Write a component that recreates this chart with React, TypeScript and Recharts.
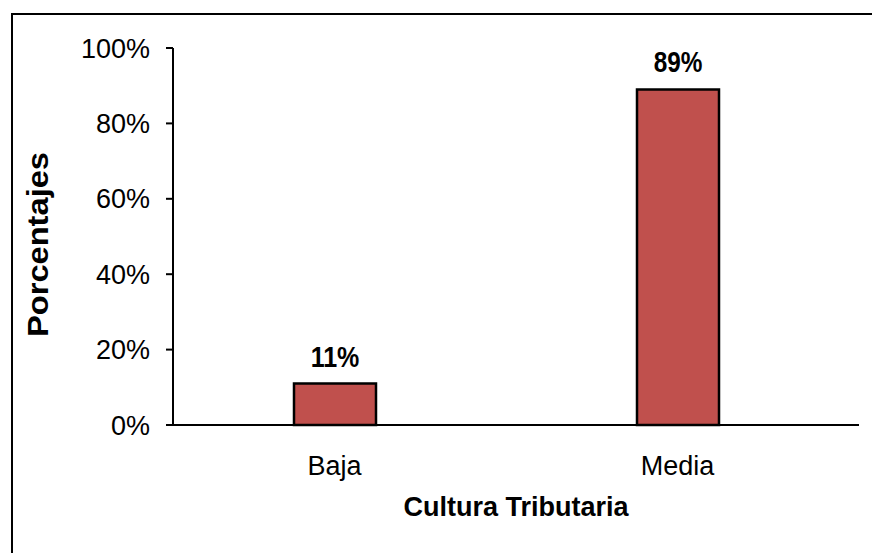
import React from 'react';
import { BarChart, Bar, XAxis, YAxis, LabelList, Label } from 'recharts';

const categories = ['Baja', 'Media'];
const percentages = [0.11, 0.89];
const yTicks = [0, 0.2, 0.4, 0.6, 0.8, 1];

const data = categories.map((name, i) => ({ name, value: percentages[i] }));

const pct = (v: any) => `${Math.round(Number(v) * 100)}%`;

const FONT = 'Liberation Sans, Arial, sans-serif';

// narrow bold value label above each bar
const ValueLabel = (props: any) => {
  const { x, y, width, value } = props;
  const fs = 29;
  return (
    <text
      x={Number(x) + Number(width) / 2}
      y={Number(y) - 17}
      textAnchor="middle"
      fontSize={fs}
      fontWeight="bold"
      fontFamily={FONT}
      fill="#000"
      textLength={fs * 1.68}
      lengthAdjust="spacingAndGlyphs"
    >
      {pct(value)}
    </text>
  );
};

// rotated y axis title, placed inside the axis box
const YTitle = (props: any) => {
  const { viewBox } = props;
  const cx = viewBox.x + 38;
  const cy = viewBox.y + viewBox.height / 2 + 8;
  return (
    <text
      x={cx}
      y={cy}
      transform={`rotate(-90, ${cx}, ${cy})`}
      textAnchor="middle"
      dominantBaseline="central"
      fontSize={29}
      fontWeight="bold"
      fontFamily={FONT}
      fill="#000"
      textLength={185}
      lengthAdjust="spacingAndGlyphs"
    >
      Porcentajes
    </text>
  );
};

export default function App() {
  return (
    <div style={{ position: 'absolute', left: 0, top: 0, width: 872, height: 553, overflow: 'hidden', background: '#fff' }}>
      {/* frame around the chart, cut off at right and bottom */}
      <div style={{ position: 'absolute', left: 11, top: 13, width: 900, height: 600, border: '2px solid #000' }} />
      <div style={{ position: 'absolute', left: 0, top: 0 }}>
        <BarChart width={872} height={553} data={data} margin={{ top: 48, right: 13, bottom: 0, left: 0 }}>
          <XAxis
            dataKey="name"
            height={128}
            padding={{ left: -10, right: 10 }}
            axisLine={{ stroke: '#000', strokeWidth: 2 }}
            tickLine={false}
            tickSize={0}
            tickMargin={31}
            tick={{ fill: '#000', fontSize: 27, fontFamily: FONT }}
          >
            <Label
              value="Cultura Tributaria"
              position="insideBottom"
              offset={37}
              style={{ fill: '#000', fontSize: 27, fontWeight: 'bold', fontFamily: FONT }}
            />
          </XAxis>
          <YAxis
            width={173}
            domain={[0, 1]}
            ticks={yTicks}
            tickFormatter={pct}
            axisLine={{ stroke: '#000', strokeWidth: 2 }}
            tickLine={{ stroke: '#000', strokeWidth: 2 }}
            tickSize={7}
            tickMargin={16}
            tick={{ fill: '#000', fontSize: 27, fontFamily: FONT }}
          >
            <Label content={<YTitle />} />
          </YAxis>
          <Bar dataKey="value" barSize={82} fill="#C0504D" stroke="#000" strokeWidth={2.5} isAnimationActive={false}>
            <LabelList dataKey="value" content={<ValueLabel />} />
          </Bar>
        </BarChart>
      </div>
    </div>
  );
}
